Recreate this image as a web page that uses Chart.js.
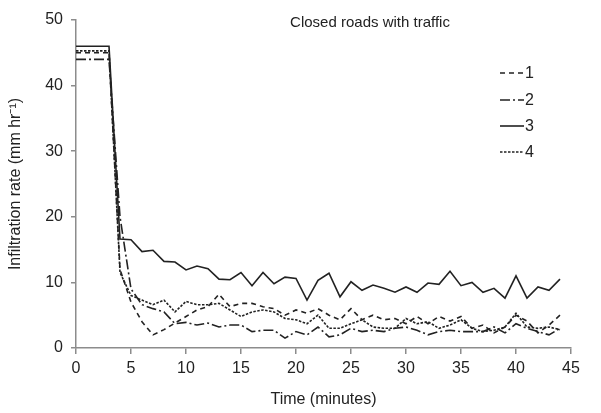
<!DOCTYPE html>
<html>
<head>
<meta charset="utf-8">
<script src="https://cdn.jsdelivr.net/npm/chart.js@4"></script>
<style>
  html, body { margin: 0; padding: 0; background: #fff; }
  #wrap { width: 601px; height: 413px; }
</style>
</head>
<body>
<div id="wrap"><canvas id="chartInfil" width="601" height="413"></canvas></div>
<script>
// time in minutes
const minutes = [0, 1, 2, 3, 4, 5, 6, 7, 8, 9, 10, 11, 12, 13, 14, 15, 16, 17, 18, 19, 20, 21, 22,
  23, 24, 25, 26, 27, 28, 29, 30, 31, 32, 33, 34, 35, 36, 37, 38, 39, 40, 41, 42, 43, 44];

const seriesNames = ["1", "2", "3", "4"];

const road1 = [45, 45, 45, 45, 12, 7, 4, 2.0, 2.8, 3.8, 4.8, 5.8, 6.3, 8.2, 6.3, 6.8, 6.8, 6.3, 6.0, 5.0, 5.8,
  5.3, 6.0, 5.0, 4.3, 6.0, 4.3, 5.0, 4.3, 4.5, 3.7, 4.8, 3.7, 4.8, 4.1, 4.8, 3.0, 3.5, 2.3, 3.2, 5.0, 4.1, 2.3, 3.5, 5.0];
const road2 = [44, 44, 44, 44, 20, 9, 6.6, 6.0, 5.5, 3.7, 3.9, 3.5, 3.8, 3.2, 3.5, 3.5, 2.5, 2.7, 2.7, 1.5, 2.5,
  2.0, 3.2, 1.7, 2.0, 3.0, 2.5, 2.7, 2.5, 3.0, 3.2, 2.7, 2.0, 2.5, 2.7, 2.5, 2.5, 2.5, 3.2, 2.3, 3.7, 3.0, 2.5, 2.0, 3.0];
const road3 = [46, 46, 46, 46, 16.6, 16.5, 14.7, 14.9, 13.2, 13.1, 11.9, 12.5, 12.1, 10.5, 10.4, 11.5, 9.5, 11.5, 9.8, 10.8, 10.6,
  7.3, 10.3, 11.4, 7.8, 10.1, 8.8, 9.6, 9.1, 8.5, 9.3, 8.5, 9.9, 9.7, 11.7, 9.5, 10, 8.5, 9.1, 7.6, 11, 7.6, 9.3, 8.8, 10.5];
const road4 = [45.3, 45.3, 45.3, 45.3, 11.5, 8.0, 7.3, 6.6, 7.3, 5.5, 7.1, 6.6, 6.6, 6.8, 5.8, 4.8, 5.5, 5.8, 5.5, 4.5, 4.3,
  3.7, 5.0, 3.0, 3.0, 3.7, 4.3, 3.2, 3.0, 3.0, 4.5, 3.7, 4.0, 3.0, 3.5, 4.3, 3.0, 2.5, 2.7, 3.2, 5.3, 3.2, 3.0, 3.2, 2.8];

const xTicks = [0, 5, 10, 15, 20, 25, 30, 35, 40, 45];
const yTicks = [0, 10, 20, 30, 40, 50];

const titleText = "Closed roads with traffic";
const lineColor = "#222";
const axisColor = "#8c8c8c";
const dashStyles = [[5, 4], [10, 3, 2, 3], [], [2.5, 1.5]];

function pts(vals) {
  return minutes.map((m, i) => ({ x: m, y: vals[i] }));
}

const allSeries = [road1, road2, road3, road4];
const datasets = allSeries.map((vals, i) => ({
  label: seriesNames[i],
  data: pts(vals),
  borderColor: lineColor,
  borderWidth: 1.6,
  borderDash: dashStyles[i],
  pointRadius: 0,
  tension: 0,
  fill: false,
}));

// title + legend drawn inside the plot area
const insideBits = {
  id: "insideBits",
  afterDraw(chart) {
    const ctx = chart.ctx;
    const area = chart.chartArea;
    ctx.save();
    ctx.fillStyle = "#222";
    ctx.font = "15px 'Liberation Sans', Arial, sans-serif";
    ctx.textAlign = "center";
    ctx.textBaseline = "middle";
    ctx.fillText(titleText, area.left + 294, area.top + 3);

    const lx = area.right - 71;
    const rows = [73, 100, 126, 152];
    ctx.textAlign = "left";
    ctx.font = "16px 'Liberation Sans', Arial, sans-serif";
    chart.data.datasets.forEach((ds, i) => {
      const y = rows[i];
      ctx.strokeStyle = lineColor;
      ctx.lineWidth = 1.6;
      ctx.setLineDash(ds.borderDash);
      ctx.beginPath();
      ctx.moveTo(lx, y);
      ctx.lineTo(lx + 24, y);
      ctx.stroke();
      ctx.setLineDash([]);
      ctx.fillText(ds.label, lx + 25, y + 1);
    });
    ctx.restore();
  },
};

const tickFont = { family: "'Liberation Sans', Arial, sans-serif", size: 16 };
const titleFont = { family: "'Liberation Sans', Arial, sans-serif", size: 16 };

var ctxInfil = document.getElementById("chartInfil").getContext("2d");
var myChartInfil = new Chart(ctxInfil, {
  type: "line",
  data: { datasets: datasets },
  options: {
    responsive: false,
    animation: false,
    layout: { padding: { left: 0, right: 30, top: 20, bottom: 0 } },
    plugins: { legend: { display: false }, tooltip: { enabled: false } },
    scales: {
      x: {
        type: "linear",
        min: 0,
        max: 45,
        afterBuildTicks: (s) => { s.ticks = xTicks.map((v) => ({ value: v })); },
        afterFit: (s) => { s.height = 65; },
        ticks: { color: "#222", font: tickFont, padding: 5, maxRotation: 0 },
        grid: { drawOnChartArea: false, color: axisColor, tickLength: 6, lineWidth: 1.5 },
        border: { color: axisColor, width: 1.5 },
        title: { display: true, text: "Time (minutes)", color: "#222", font: titleFont, padding: { top: 4 } },
      },
      y: {
        min: 0,
        max: 50,
        afterBuildTicks: (s) => { s.ticks = yTicks.map((v) => ({ value: v })); },
        afterFit: (s) => { s.width = 76; },
        ticks: { color: "#222", font: tickFont, padding: 8 },
        grid: { drawOnChartArea: false, color: axisColor, tickLength: 5, lineWidth: 1.5 },
        border: { color: axisColor, width: 1.5 },
        title: { display: true, text: "Infiltration rate (mm hr\u207B\u00B9)", color: "#222", font: titleFont, padding: { top: 6, bottom: 0 } },
      },
    },
  },
  plugins: [insideBits],
});
</script>
</body>
</html>
